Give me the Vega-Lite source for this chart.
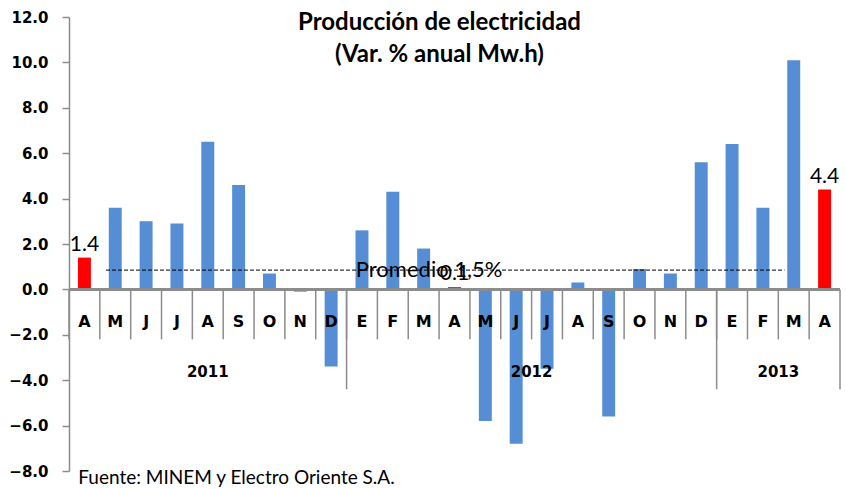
{
  "$schema": "https://vega.github.io/schema/vega-lite/v6.json",
  "width": 771,
  "height": 454,
  "autosize": "none",
  "padding": {"left": 69, "top": 17, "right": 6, "bottom": 18},
  "background": "white",
  "config": {"view": {"stroke": null}, "font": "Lato"},
  "title": {
    "text": ["Producción de electricidad", "(Var. % anual Mw.h)"],
    "font": "Lato",
    "fontSize": 24,
    "fontWeight": "bold",
    "color": "black",
    "anchor": "middle",
    "baseline": "top",
    "dx": -15,
    "offset": -57,
    "lineHeight": 32
  },
  "datasets": {
    "prod": [
      {"m": "2011-04", "mes": "A", "v": 1.4, "resaltado": "si"},
      {"m": "2011-05", "mes": "M", "v": 3.6, "resaltado": "no"},
      {"m": "2011-06", "mes": "J", "v": 3.0, "resaltado": "no"},
      {"m": "2011-07", "mes": "J", "v": 2.9, "resaltado": "no"},
      {"m": "2011-08", "mes": "A", "v": 6.5, "resaltado": "no"},
      {"m": "2011-09", "mes": "S", "v": 4.6, "resaltado": "no"},
      {"m": "2011-10", "mes": "O", "v": 0.7, "resaltado": "no"},
      {"m": "2011-11", "mes": "N", "v": -0.1, "resaltado": "no"},
      {"m": "2011-12", "mes": "D", "v": -3.4, "resaltado": "no"},
      {"m": "2012-01", "mes": "E", "v": 2.6, "resaltado": "no"},
      {"m": "2012-02", "mes": "F", "v": 4.3, "resaltado": "no"},
      {"m": "2012-03", "mes": "M", "v": 1.8, "resaltado": "no"},
      {"m": "2012-04", "mes": "A", "v": 0.1, "resaltado": "si"},
      {"m": "2012-05", "mes": "M", "v": -5.8, "resaltado": "no"},
      {"m": "2012-06", "mes": "J", "v": -6.8, "resaltado": "no"},
      {"m": "2012-07", "mes": "J", "v": -3.5, "resaltado": "no"},
      {"m": "2012-08", "mes": "A", "v": 0.3, "resaltado": "no"},
      {"m": "2012-09", "mes": "S", "v": -5.6, "resaltado": "no"},
      {"m": "2012-10", "mes": "O", "v": 0.9, "resaltado": "no"},
      {"m": "2012-11", "mes": "N", "v": 0.7, "resaltado": "no"},
      {"m": "2012-12", "mes": "D", "v": 5.6, "resaltado": "no"},
      {"m": "2013-01", "mes": "E", "v": 6.4, "resaltado": "no"},
      {"m": "2013-02", "mes": "F", "v": 3.6, "resaltado": "no"},
      {"m": "2013-03", "mes": "M", "v": 10.1, "resaltado": "no"},
      {"m": "2013-04", "mes": "A", "v": 4.4, "resaltado": "si"}
    ],
    "years": [
      {"m": "2011-08", "year": "2011", "pos": "mid"},
      {"m": "2012-07", "year": "2012", "pos": "edge"},
      {"m": "2013-03", "year": "2013", "pos": "edge"}
    ],
    "yearsep": [
      {"m": "2012-01"},
      {"m": "2013-01"}
    ],
    "promedio": [
      {"m": "2011-05", "p": 0.85},
      {"m": "2013-03", "p": 0.85}
    ],
    "promtext": [{"m": "2012-01", "p": 0.85, "t": "Promedio 1,5%"}],
    "fuente": [{"m": "2011-04", "t": "Fuente: MINEM y Electro Oriente S.A."}]
  },
  "layer": [
    {
      "data": {"name": "prod"},
      "mark": {"type": "bar", "width": {"band": 0.42}},
      "encoding": {
        "x": {"field": "m", "type": "nominal", "sort": null,
              "scale": {"paddingInner": 0, "paddingOuter": 0}, "axis": null},
        "y": {"field": "v", "type": "quantitative",
              "scale": {"domain": [-8, 12], "nice": false, "zero": false},
              "axis": {"values": [-8, -6, -4, -2, 0, 2, 4, 6, 8, 10, 12], "format": ".1f",
                       "title": null, "grid": false, "labelFont": "DejaVu Sans", "labelFontSize": 15,
                       "labelFontWeight": "bold", "labelColor": "black", "domainColor": "#8c8c8c",
                       "domainWidth": 1.5, "tickColor": "#8c8c8c", "tickSize": 7, "tickWidth": 1.5,
                       "labelPadding": 14}},
        "color": {"field": "resaltado", "type": "nominal",
                  "scale": {"domain": ["no", "si"], "range": ["#558ED5", "#FF0000"]}, "legend": null}
      }
    },
    {
      "data": {"name": "prod"},
      "mark": {"type": "rule", "color": "#8c8c8c", "strokeWidth": 1.5},
      "encoding": {"y": {"datum": 0}}
    },
    {
      "data": {"name": "prod"},
      "mark": {"type": "rule", "color": "#8c8c8c", "strokeWidth": 1.5},
      "encoding": {
        "x": {"field": "m", "type": "nominal", "sort": null, "bandPosition": 0},
        "y": {"datum": 0},
        "y2": {"datum": -2.2}
      }
    },
    {
      "data": {"name": "yearsep"},
      "mark": {"type": "rule", "color": "#8c8c8c", "strokeWidth": 1.5},
      "encoding": {
        "x": {"field": "m", "type": "nominal", "sort": null, "bandPosition": 0},
        "y": {"datum": 0},
        "y2": {"datum": -4.4}
      }
    },
    {
      "data": {"name": "prod"},
      "transform": [{"filter": "datum.m == '2013-04'"}],
      "mark": {"type": "rule", "color": "#8c8c8c", "strokeWidth": 1.5},
      "encoding": {
        "x": {"field": "m", "type": "nominal", "sort": null, "bandPosition": 1},
        "y": {"datum": 0},
        "y2": {"datum": -4.4}
      }
    },
    {
      "data": {"name": "prod"},
      "mark": {"type": "text", "font": "DejaVu Sans", "fontSize": 16, "fontWeight": "bold", "color": "black", "baseline": "middle"},
      "encoding": {
        "x": {"field": "m", "type": "nominal", "sort": null},
        "y": {"datum": -1.45},
        "text": {"field": "mes"}
      }
    },
    {
      "data": {"name": "years"},
      "transform": [{"filter": "datum.pos == 'mid'"}],
      "mark": {"type": "text", "font": "DejaVu Sans", "fontSize": 15, "fontWeight": "bold", "color": "black", "baseline": "middle"},
      "encoding": {
        "x": {"field": "m", "type": "nominal", "sort": null, "bandPosition": 0.5},
        "y": {"datum": -3.65},
        "text": {"field": "year"}
      }
    },
    {
      "data": {"name": "years"},
      "transform": [{"filter": "datum.pos == 'edge'"}],
      "mark": {"type": "text", "font": "DejaVu Sans", "fontSize": 15, "fontWeight": "bold", "color": "black", "baseline": "middle"},
      "encoding": {
        "x": {"field": "m", "type": "nominal", "sort": null, "bandPosition": 0},
        "y": {"datum": -3.65},
        "text": {"field": "year"}
      }
    },
    {
      "data": {"name": "promedio"},
      "mark": {"type": "line", "color": "black", "strokeWidth": 1, "strokeDash": [4, 2]},
      "encoding": {
        "x": {"field": "m", "type": "nominal", "sort": null, "bandPosition": 0.2},
        "y": {"field": "p", "type": "quantitative"}
      }
    },
    {
      "data": {"name": "promtext"},
      "mark": {"type": "text", "font": "Lato", "fontSize": 22, "color": "black", "align": "left", "baseline": "middle"},
      "encoding": {
        "x": {"field": "m", "type": "nominal", "sort": null, "bandPosition": 0.3},
        "y": {"field": "p", "type": "quantitative"},
        "text": {"field": "t"}
      }
    },
    {
      "data": {"name": "prod"},
      "transform": [{"filter": "datum.resaltado == 'si'"}],
      "mark": {"type": "text", "font": "Lato", "fontSize": 21, "color": "black", "baseline": "bottom", "dy": -3},
      "encoding": {
        "x": {"field": "m", "type": "nominal", "sort": null},
        "y": {"field": "v", "type": "quantitative"},
        "text": {"field": "v", "type": "quantitative", "format": ".1f"}
      }
    },
    {
      "data": {"name": "fuente"},
      "mark": {"type": "text", "font": "Lato", "fontSize": 19, "color": "black", "align": "left", "baseline": "middle"},
      "encoding": {
        "x": {"field": "m", "type": "nominal", "sort": null, "bandPosition": 0.3},
        "y": {"datum": -8.3},
        "text": {"field": "t"}
      }
    }
  ]
}
